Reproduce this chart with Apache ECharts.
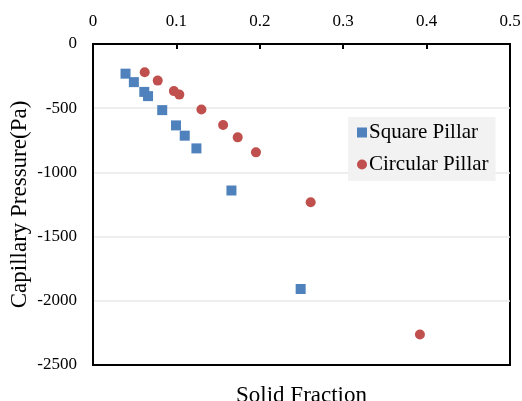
<!DOCTYPE html>
<html lang="en">
<head>
  <meta charset="UTF-8">
  <title>Capillary Pressure</title>
  <script src="https://cdn.jsdelivr.net/npm/echarts@6/dist/echarts.min.js"></script>
</head>
<body style="margin:0">
  <div id="app" style="width: 522px; height: 401px;"></div>
  <script>
    // values
    var squareX = [0.039, 0.049, 0.0615, 0.066, 0.083, 0.0995, 0.110, 0.124, 0.166, 0.249]
    var squareY = [-231, -297, -373, -406, -515, -634, -714, -813, -1141, -1908]
    var circleX = [0.062, 0.0776, 0.097, 0.1035, 0.130, 0.156, 0.1735, 0.1954, 0.261, 0.392]
    var circleY = [-220, -285, -367, -394, -510, -631, -727, -844, -1232, -2262]

    function pairs(xs, ys) {
      var out = []
      for (var i = 0; i < xs.length; i++) {
        out.push([xs[i], ys[i]])
      }
      return out
    }

    var font = 'Liberation Serif'
    var mCharts = echarts.init(document.querySelector('#app'))
    var option = {
      animation: false,
      textStyle: { fontFamily: font },
      grid: {
        left: 93, right: 12, top: 44, bottom: 36,
        containLabel: false,
        outerBoundsMode: 'none',
        show: true, borderColor: '#000', borderWidth: 2
      },
      legend: {
        orient: 'vertical',
        left: 348, top: 117,
        backgroundColor: '#f2f2f2',
        padding: [5, 7, 6, 9],
        itemGap: 11,
        itemWidth: 10, itemHeight: 10,
        textStyle: { fontFamily: font, fontSize: 21, color: '#000', padding: [0, 0, 0, -3] },
        data: [
          { name: 'Square Pillar', icon: 'rect' },
          { name: 'Circular Pillar', icon: 'circle' }
        ]
      },
      xAxis: [
        {
          type: 'value', position: 'top',
          min: 0, max: 0.5, interval: 0.1,
          axisLine: { show: true, lineStyle: { color: '#000', width: 2 } },
          axisTick: { show: true, inside: true, length: 5, lineStyle: { color: '#000', width: 2 } },
          axisLabel: { color: '#000', fontSize: 17, fontFamily: font, margin: 14 },
          splitLine: { show: false }
        },
        {
          type: 'value', position: 'bottom',
          min: 0, max: 0.5, interval: 0.1,
          name: 'Solid Fraction', nameLocation: 'middle', nameGap: 19,
          nameMoveOverlap: false,
          nameTextStyle: { color: '#000', fontSize: 23, fontFamily: font },
          axisLine: { show: true, lineStyle: { color: '#000', width: 2 } },
          axisTick: { show: false },
          axisLabel: { show: false },
          splitLine: { show: false }
        }
      ],
      yAxis: {
        type: 'value',
        min: -2500, max: 0, interval: 500,
        name: 'Capillary Pressure(Pa)', nameLocation: 'middle', nameGap: 62,
        nameMoveOverlap: false,
        nameTextStyle: { color: '#000', fontSize: 23, fontFamily: font },
        axisLine: { show: true, lineStyle: { color: '#000', width: 2 } },
        axisTick: { show: false },
        axisLabel: {
          color: '#000', fontSize: 17, fontFamily: font, margin: 16,
          formatter: function (v) { return String(v) }
        },
        splitLine: { show: true, lineStyle: { color: '#e8e8e8', width: 1.5 } }
      },
      series: [
        {
          name: 'Square Pillar',
          type: 'scatter',
          symbol: 'rect',
          symbolSize: 10,
          itemStyle: { color: '#4f81bd', opacity: 1 },
          data: pairs(squareX, squareY)
        },
        {
          name: 'Circular Pillar',
          type: 'scatter',
          symbol: 'circle',
          symbolSize: 10,
          itemStyle: { color: '#c0504d', opacity: 1 },
          data: pairs(circleX, circleY)
        }
      ]
    }
    mCharts.setOption(option)
  </script>
</body>
</html>
